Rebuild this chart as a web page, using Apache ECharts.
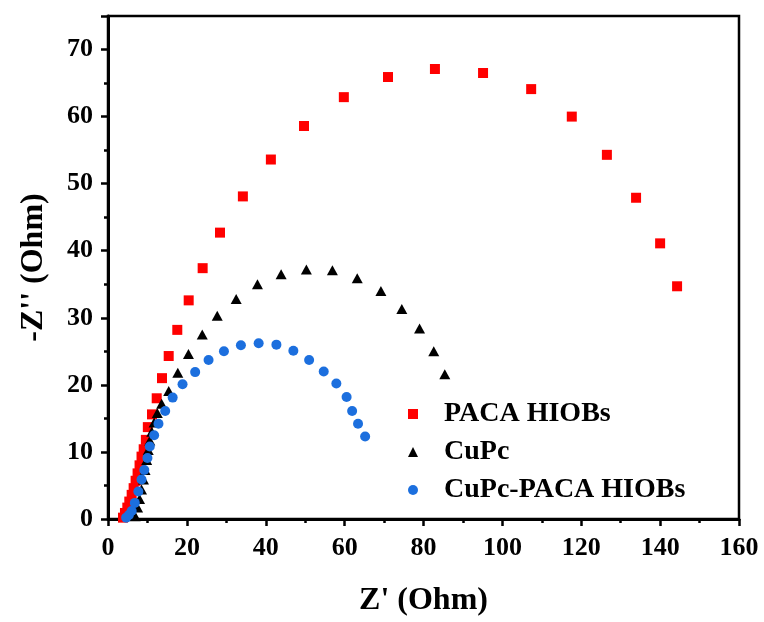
<!DOCTYPE html>
<html><head><meta charset="utf-8">
<script src="https://cdn.jsdelivr.net/npm/echarts@6/dist/echarts.min.js"></script>
<style>html,body{margin:0;padding:0;background:#fff}#c{width:764px;height:622px}</style>
</head><body><div id="c"></div>
<script>
const seriesNames = ['PACA HIOBs', 'CuPc', 'CuPc-PACA HIOBs'];
const pacaX = [3.8,4.3,4.9,5.4,6.0,6.5,7.0,7.5,8.0,8.5,9.05,9.6,10.1,11.16,12.35,13.69,15.39,17.57,20.46,24.0,28.4,34.2,41.3,49.7,59.8,71.0,82.9,95.1,107.3,117.6,126.5,133.9,140.0,144.3];
const pacaY = [0.2,0.9,1.7,2.6,3.6,4.6,5.7,6.8,8.0,9.3,10.4,11.8,13.7,15.6,18.0,21.0,24.3,28.2,32.6,37.4,42.7,48.1,53.6,58.6,62.9,65.9,67.1,66.5,64.1,60.0,54.3,47.9,41.1,34.7];
const cupcX = [6.9,7.5,8.0,8.5,9.0,9.4,9.8,10.2,10.6,11.1,11.7,12.5,13.6,15.4,17.7,20.4,23.9,27.7,32.5,37.9,43.9,50.3,56.9,63.2,69.2,74.5,79.0,82.6,85.4];
const cupcY = [0.4,1.7,3.0,4.4,5.9,7.3,8.8,10.3,11.7,13.0,14.4,15.8,17.2,19.1,21.8,24.6,27.5,30.3,32.8,35.0,36.5,37.2,37.1,35.9,34.0,31.3,28.4,25.0,21.6];
const hybX = [4.6,5.3,6.0,6.8,7.7,8.5,9.2,10.0,10.6,11.7,12.8,14.5,16.4,18.9,22.1,25.5,29.4,33.7,38.2,42.7,47.0,51.0,54.7,57.9,60.5,61.9,63.4,65.2];
const hybY = [0.2,0.6,1.2,2.4,4.1,5.9,7.3,9.1,10.8,12.5,14.2,16.1,18.1,20.1,21.9,23.7,25.0,25.9,26.2,26.0,25.1,23.7,22.0,20.2,18.2,16.1,14.2,12.3];
const xTicks = [0,20,40,60,80,100,120,140,160];
const yTicks = [0,10,20,30,40,50,60,70];

const zip = (xs, ys) => xs.map((x, i) => [x, ys[i]]);
const FONT = 'Liberation Serif';
const chart = echarts.init(document.getElementById('c'), null, {renderer: 'canvas'});
chart.setOption({
  animation: false,
  backgroundColor: '#fff',
  grid: {left: 108, right: 25, top: 16, bottom: 99, show: true, borderColor: '#000', borderWidth: 2.5, backgroundColor: 'transparent'},
  legend: {
    orient: 'vertical', left: 403, top: 395, itemGap: 10,
    itemWidth: 10, itemHeight: 10,
    data: [
      {name: seriesNames[0], icon: 'rect', itemStyle: {color: '#ff0000'}},
      {name: seriesNames[1], icon: 'triangle', itemStyle: {color: '#000'}},
      {name: seriesNames[2], icon: 'circle', itemStyle: {color: '#1c6fde'}}
    ],
    textStyle: {fontFamily: FONT, fontWeight: 'bold', fontSize: 28, color: '#000', lineHeight: 28, padding: [0, 0, 0, 21]}
  },
  xAxis: {
    type: 'value', min: xTicks[0], max: xTicks[xTicks.length - 1], interval: 20,
    name: "Z' (Ohm)", nameLocation: 'middle', nameGap: 66,
    nameTextStyle: {fontFamily: FONT, fontWeight: 'bold', fontSize: 32, color: '#000'},
    axisLine: {show: true, onZero: false, lineStyle: {color: '#000', width: 3}},
    axisTick: {show: true, inside: false, length: 7, lineStyle: {color: '#000', width: 2.5}},
    minorTick: {show: true, splitNumber: 2, length: 4, lineStyle: {color: '#000', width: 2.5}},
    axisLabel: {fontFamily: FONT, fontWeight: 'bold', fontSize: 26, color: '#000', margin: 16},
    splitLine: {show: false}
  },
  yAxis: [{
    type: 'value', min: yTicks[0], max: 75, interval: 10,
    name: "-Z'' (Ohm)", nameLocation: 'middle', nameGap: 58,
    nameTextStyle: {fontFamily: FONT, fontWeight: 'bold', fontSize: 32, color: '#000'},
    axisLine: {show: true, onZero: false, lineStyle: {color: '#000', width: 3}},
    axisTick: {show: true, inside: false, length: 7, lineStyle: {color: '#000', width: 2.5}},
    axisLabel: {fontFamily: FONT, fontWeight: 'bold', fontSize: 26, color: '#000', margin: 15,
      formatter: v => (yTicks.indexOf(v) >= 0 ? String(v) : '')},
    splitLine: {show: false}
  }, {
    type: 'value', min: 0, max: 75, interval: 5, position: 'left',
    axisLine: {show: false}, axisLabel: {show: false}, splitLine: {show: false},
    axisTick: {show: true, inside: false, length: 4, lineStyle: {color: '#000', width: 2.5}}
  }],
  series: [
    {name: seriesNames[0], type: 'scatter', symbol: 'rect', symbolSize: 10, itemStyle: {color: '#ff0000', opacity: 1}, data: zip(pacaX, pacaY)},
    {name: seriesNames[1], type: 'scatter', symbol: 'triangle', symbolSize: [11, 10], itemStyle: {color: '#000', opacity: 1}, data: zip(cupcX, cupcY)},
    {name: seriesNames[2], type: 'scatter', symbol: 'circle', symbolSize: 10, itemStyle: {color: '#1c6fde', opacity: 1}, data: zip(hybX, hybY)}
  ]
});
</script></body></html>
